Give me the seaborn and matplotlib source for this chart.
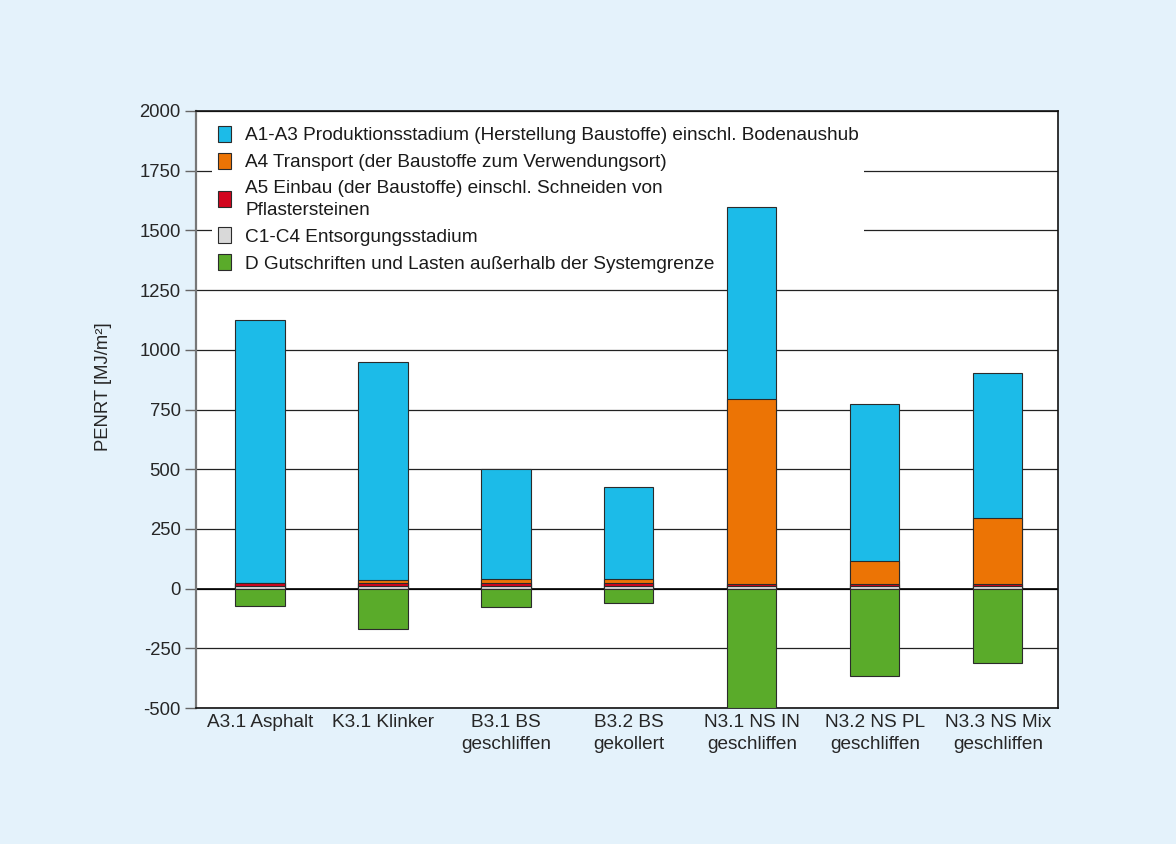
import numpy as np
import pandas as pd
import matplotlib
matplotlib.use("Agg")
import matplotlib.pyplot as plt
from matplotlib.patches import Patch
import seaborn as sns

categories = [
    "A3.1 Asphalt",
    "K3.1 Klinker",
    "B3.1 BS\ngeschliffen",
    "B3.2 BS\ngekollert",
    "N3.1 NS IN\ngeschliffen",
    "N3.2 NS PL\ngeschliffen",
    "N3.3 NS Mix\ngeschliffen",
]

# PENRT [MJ/m²]
c1_c4 = [10, 10, 12, 12, 12, 12, 12]
a5 = [12, 12, 10, 10, 8, 8, 8]
a4 = [3, 14, 20, 20, 772, 97, 277]
a1_a3 = [1100, 915, 460, 385, 804, 658, 604]
d_credits = [-71, -168, -75, -59, -500, -365, -310]

labels = [
    "A1-A3 Produktionsstadium (Herstellung Baustoffe) einschl. Bodenaushub",
    "A4 Transport (der Baustoffe zum Verwendungsort)",
    "A5 Einbau (der Baustoffe) einschl. Schneiden von\nPflastersteinen",
    "C1-C4 Entsorgungsstadium",
    "D Gutschriften und Lasten außerhalb der Systemgrenze",
]
colors = ["#1cbbe8", "#ec7405", "#d2051e", "#d9d9d9", "#5aab2a"]

sns.set_theme(style="white")
plt.rcParams["font.family"] = ["Liberation Sans", "DejaVu Sans"]
plt.rcParams["text.color"] = "#1a1a1a"
plt.rcParams["axes.unicode_minus"] = False

fs = 13.3
fs_txt = 13.7

df = pd.DataFrame({
    "cat": categories,
    "c": c1_c4,
    "a5": a5,
    "a4": a4,
    "a1": a1_a3,
    "d": d_credits,
})
# cumulative tops, drawn tallest first so the layers read as a stack
df["top_c"] = df["c"]
df["top_a5"] = df["top_c"] + df["a5"]
df["top_a4"] = df["top_a5"] + df["a4"]
df["top_a1"] = df["top_a4"] + df["a1"]

bg = "#e4f2fb"
fig = plt.figure(figsize=(11.76, 8.44), dpi=100, facecolor=bg)
ax = fig.add_axes([0.1667, 0.1611, 0.7330, 0.7074])
ax.set_facecolor("white")

layers = [("top_a1", colors[0]), ("top_a4", colors[1]),
          ("top_a5", colors[2]), ("top_c", colors[3]), ("d", colors[4])]
for col, colr in layers:
    sns.barplot(data=df, x="cat", y=col, order=categories, color=colr,
                width=0.4, edgecolor="#2b2b2b", linewidth=0.8,
                saturation=1, zorder=3, ax=ax)

ax.set_ylim(-500, 2000)
ax.set_xlim(-0.52, 6.49)
ax.set_yticks(np.arange(-500, 2001, 250))
ax.yaxis.grid(True, color="#222222", linewidth=0.9, zorder=0.5)
ax.set_axisbelow(True)
ax.axhline(0, color="black", linewidth=1.2, zorder=2)

ax.set_xlabel("")
ax.set_ylabel("PENRT [MJ/m²]", fontsize=fs)
ax.yaxis.set_label_coords(-0.097, 0.539)
ax.tick_params(axis="y", left=True, length=8, width=1, color="#666666",
               labelsize=fs, pad=3)
ax.tick_params(axis="x", bottom=False, labelsize=fs_txt, pad=-2)
for lab in ax.get_xticklabels():
    lab.set_linespacing(1.45)

for s in ["top", "right", "bottom"]:
    ax.spines[s].set_color("#111111")
    ax.spines[s].set_linewidth(1.2)
ax.spines["left"].set_color("#777777")
ax.spines["left"].set_linewidth(1.6)

handles = [Patch(facecolor=c, edgecolor="#2b2b2b", linewidth=0.8) for c in colors]
leg = ax.legend(handles, labels, loc="upper left",
                bbox_to_anchor=(0.008, 1.0), frameon=True, fontsize=fs_txt,
                handlelength=0.7, handleheight=0.92, handletextpad=0.75,
                labelspacing=0.44, borderpad=0.28, fancybox=False)
leg.get_frame().set_facecolor("white")
leg.get_frame().set_edgecolor("none")
leg.get_frame().set_alpha(1)
leg.set_zorder(1)
for t in leg.get_texts():
    t.set_linespacing(1.4)

fig.savefig("out.png", dpi=100, facecolor=bg)
